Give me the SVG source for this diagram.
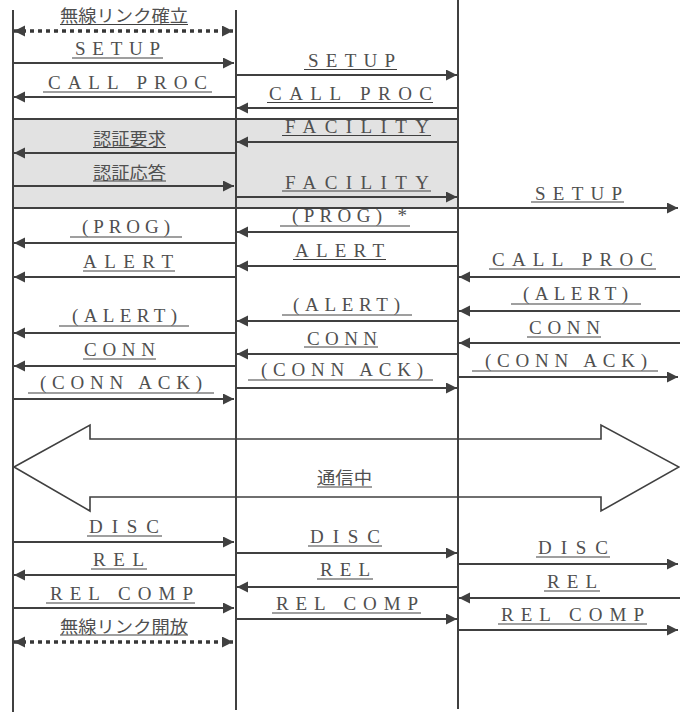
<svg xmlns="http://www.w3.org/2000/svg" width="680" height="712" viewBox="0 0 680 712">
<style>
.ll{stroke:#404040;stroke-width:2;fill:none}
.m{stroke:#404040;stroke-width:2;fill:none;marker-end:url(#ah)}
.d{stroke:#383838;stroke-width:3.4;fill:none;stroke-dasharray:4 4;stroke-dashoffset:-8;marker-start:url(#ahs);marker-end:url(#ah)}
.t{font-family:"Liberation Serif","Times New Roman",serif;font-size:19px;fill:#505050;text-anchor:middle}
.j{font-family:"Noto Sans CJK JP","Noto Sans",sans-serif;font-size:17px;fill:#505050;text-anchor:middle}
.u{stroke:#404040;stroke-width:1.2}
</style>
<defs>
<marker id="ah" markerUnits="userSpaceOnUse" markerWidth="12" markerHeight="12" refX="11" refY="5.5" orient="auto"><path d="M0,0 L11,5.5 L0,11 z" fill="#404040"/></marker>
<marker id="ahs" markerUnits="userSpaceOnUse" markerWidth="12" markerHeight="12" refX="11" refY="5.5" orient="auto-start-reverse"><path d="M0,0 L11,5.5 L0,11 z" fill="#404040"/></marker>
</defs>
<rect x="0" y="0" width="680" height="712" fill="#fff"/>
<g id="auth-box"><rect x="13" y="119" width="445" height="89" fill="#e2e2e2" stroke="#404040" stroke-width="2"/></g>
<g id="lifelines">
<line class="ll" x1="13" y1="10" x2="13" y2="712"/>
<line class="ll" x1="236" y1="10" x2="236" y2="710"/>
<line class="ll" x1="458" y1="0" x2="458" y2="709"/>
</g>
<g id="connectors">
<line class="d" x1="14" y1="31" x2="233" y2="31"/>
<line class="m" x1="13" y1="63" x2="234" y2="63"/>
<line class="m" x1="236" y1="97" x2="14" y2="97"/>
<line class="m" x1="236" y1="153" x2="14" y2="153"/>
<line class="m" x1="13" y1="186" x2="234" y2="186"/>
<line class="m" x1="236" y1="243" x2="14" y2="243"/>
<line class="m" x1="236" y1="277" x2="14" y2="277"/>
<line class="m" x1="236" y1="333" x2="14" y2="333"/>
<line class="m" x1="236" y1="366" x2="14" y2="366"/>
<line class="m" x1="13" y1="399" x2="234" y2="399"/>
<line class="m" x1="13" y1="542" x2="234" y2="542"/>
<line class="m" x1="236" y1="575" x2="14" y2="575"/>
<line class="m" x1="13" y1="608" x2="234" y2="608"/>
<line class="d" x1="14" y1="642" x2="233" y2="642"/>
<line class="m" x1="236" y1="75" x2="457" y2="75"/>
<line class="m" x1="458" y1="108" x2="237" y2="108"/>
<line class="m" x1="458" y1="142" x2="237" y2="142"/>
<line class="m" x1="236" y1="197" x2="457" y2="197"/>
<line class="m" x1="458" y1="232" x2="237" y2="232"/>
<line class="m" x1="458" y1="266" x2="237" y2="266"/>
<line class="m" x1="458" y1="321" x2="237" y2="321"/>
<line class="m" x1="458" y1="354" x2="237" y2="354"/>
<line class="m" x1="236" y1="388" x2="457" y2="388"/>
<line class="m" x1="236" y1="553" x2="457" y2="553"/>
<line class="m" x1="458" y1="587" x2="237" y2="587"/>
<line class="m" x1="236" y1="619" x2="457" y2="619"/>
<line class="m" x1="458" y1="208" x2="678" y2="208"/>
<line class="m" x1="680" y1="277" x2="459" y2="277"/>
<line class="m" x1="680" y1="311" x2="459" y2="311"/>
<line class="m" x1="680" y1="343" x2="459" y2="343"/>
<line class="m" x1="458" y1="377" x2="678" y2="377"/>
<line class="m" x1="458" y1="564" x2="678" y2="564"/>
<line class="m" x1="680" y1="598" x2="459" y2="598"/>
<line class="m" x1="458" y1="630" x2="678" y2="630"/>
</g>
<g id="in-communication">
<polygon points="14,467 90,425 90,439 601,439 601,425 679,467 601,511 601,497 90,497 90,511" fill="none" stroke="#404040" stroke-width="1.6" stroke-linejoin="miter"/>
<text class="j" x="344.5" y="484" textLength="55" lengthAdjust="spacingAndGlyphs">通信中</text>
<line class="u" x1="317" y1="487" x2="372" y2="487"/>
</g>
<g id="labels">
<text class="j" x="124" y="22" textLength="128" lengthAdjust="spacingAndGlyphs">無線リンク確立</text><line class="u" x1="60" y1="24.5" x2="188" y2="24.5"/>
<text class="t" x="117.5" y="55" textLength="85" lengthAdjust="spacing">SETUP</text><line class="u" x1="72" y1="58" x2="163" y2="58"/>
<text class="t" x="127.5" y="89" textLength="159" lengthAdjust="spacing">CALL PROC</text><line class="u" x1="43" y1="92" x2="212" y2="92"/>
<text class="j" x="129.5" y="145" textLength="73" lengthAdjust="spacingAndGlyphs">認証要求</text><line class="u" x1="93" y1="147.5" x2="166" y2="147.5"/>
<text class="j" x="129.5" y="179" textLength="73" lengthAdjust="spacingAndGlyphs">認証応答</text><line class="u" x1="93" y1="181" x2="166" y2="181"/>
<text class="t" x="126" y="233" textLength="88" lengthAdjust="spacing">(PROG)</text><line class="u" x1="70" y1="237" x2="182" y2="237"/>
<text class="t" x="128" y="268" textLength="90" lengthAdjust="spacing">ALERT</text><line class="u" x1="83" y1="271" x2="175" y2="271"/>
<text class="t" x="124.5" y="322" textLength="105" lengthAdjust="spacing">(ALERT)</text><line class="u" x1="59" y1="326" x2="189" y2="326"/>
<text class="t" x="119.5" y="356" textLength="71" lengthAdjust="spacing">CONN</text><line class="u" x1="83" y1="359" x2="156" y2="359"/>
<text class="t" x="121" y="389" textLength="162" lengthAdjust="spacing">(CONN ACK)</text><line class="u" x1="28" y1="393" x2="214" y2="393"/>
<text class="t" x="124" y="533" textLength="70" lengthAdjust="spacing">DISC</text><line class="u" x1="87" y1="536" x2="162" y2="536"/>
<text class="t" x="118.5" y="566" textLength="51" lengthAdjust="spacing">REL</text><line class="u" x1="91" y1="569" x2="147" y2="569"/>
<text class="t" x="121.5" y="600" textLength="143" lengthAdjust="spacing">REL COMP</text><line class="u" x1="46" y1="603" x2="195" y2="603"/>
<text class="j" x="124" y="633" textLength="128" lengthAdjust="spacingAndGlyphs">無線リンク開放</text><line class="u" x1="60" y1="635" x2="188" y2="635"/>
<text class="t" x="351.5" y="67" textLength="87" lengthAdjust="spacing">SETUP</text><line class="u" x1="304" y1="69.5" x2="397" y2="69.5"/>
<text class="t" x="350.5" y="100" textLength="163" lengthAdjust="spacing">CALL PROC</text><line class="u" x1="267" y1="102.5" x2="433" y2="102.5"/>
<text class="t" x="357" y="133" textLength="144" lengthAdjust="spacing">FACILITY</text><line class="u" x1="282" y1="135.5" x2="431" y2="135.5"/>
<text class="t" x="357" y="188.5" textLength="144" lengthAdjust="spacing">FACILITY</text><line class="u" x1="282" y1="191" x2="431" y2="191"/>
<text class="t" x="349.5" y="222" textLength="115" lengthAdjust="spacing">(PROG) *</text><line class="u" x1="280" y1="226" x2="410" y2="226"/>
<text class="t" x="339.5" y="257" textLength="89" lengthAdjust="spacing">ALERT</text><line class="u" x1="293" y1="259.5" x2="386" y2="259.5"/>
<text class="t" x="346.5" y="311" textLength="107" lengthAdjust="spacing">(ALERT)</text><line class="u" x1="282" y1="315" x2="412" y2="315"/>
<text class="t" x="342" y="344.5" textLength="70" lengthAdjust="spacing">CONN</text><line class="u" x1="304" y1="347" x2="378" y2="347"/>
<text class="t" x="342" y="376" textLength="162" lengthAdjust="spacing">(CONN ACK)</text><line class="u" x1="248" y1="380" x2="433" y2="380"/>
<text class="t" x="345" y="543" textLength="70" lengthAdjust="spacing">DISC</text><line class="u" x1="308" y1="546" x2="382" y2="546"/>
<text class="t" x="345" y="576" textLength="50" lengthAdjust="spacing">REL</text><line class="u" x1="317" y1="579" x2="373" y2="579"/>
<text class="t" x="347" y="610" textLength="142" lengthAdjust="spacing">REL COMP</text><line class="u" x1="272" y1="613" x2="421" y2="613"/>
<text class="t" x="578.5" y="199.5" textLength="87" lengthAdjust="spacing">SETUP</text><line class="u" x1="531" y1="202" x2="624" y2="202"/>
<text class="t" x="572.5" y="266" textLength="161" lengthAdjust="spacing">CALL PROC</text><line class="u" x1="489" y1="269" x2="656" y2="269"/>
<text class="t" x="575.5" y="300" textLength="105" lengthAdjust="spacing">(ALERT)</text><line class="u" x1="511" y1="304" x2="641" y2="304"/>
<text class="t" x="564.5" y="334" textLength="71" lengthAdjust="spacing">CONN</text><line class="u" x1="527" y1="337" x2="601" y2="337"/>
<text class="t" x="566" y="367" textLength="162" lengthAdjust="spacing">(CONN ACK)</text><line class="u" x1="472" y1="371" x2="658" y2="371"/>
<text class="t" x="573" y="554" textLength="70" lengthAdjust="spacing">DISC</text><line class="u" x1="536" y1="557" x2="610" y2="557"/>
<text class="t" x="572" y="588" textLength="50" lengthAdjust="spacing">REL</text><line class="u" x1="544" y1="591" x2="600" y2="591"/>
<text class="t" x="572.5" y="621" textLength="143" lengthAdjust="spacing">REL COMP</text><line class="u" x1="498" y1="624" x2="647" y2="624"/>
</g>
</svg>
